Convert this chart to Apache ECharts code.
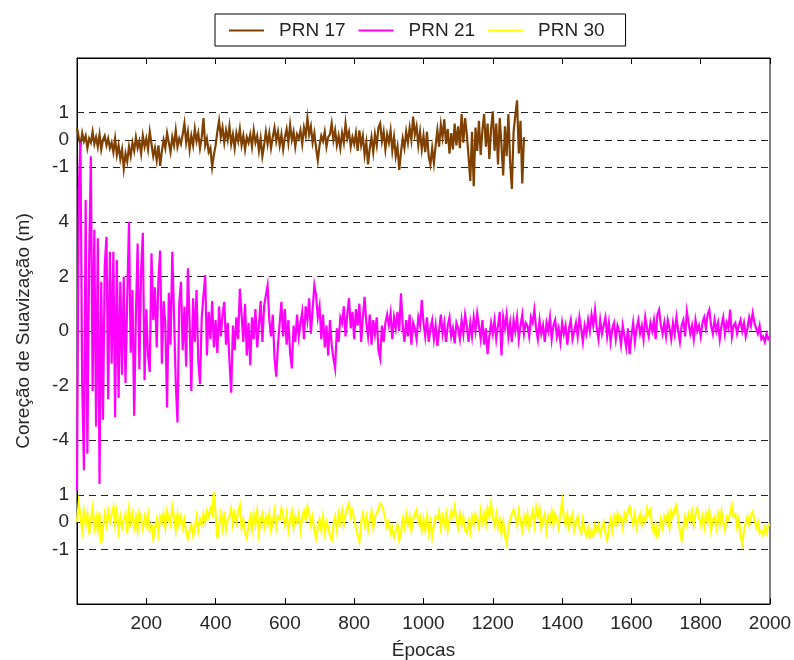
<!DOCTYPE html>
<html>
<head>
<meta charset="utf-8">
<script src="https://cdn.jsdelivr.net/npm/echarts@6/dist/echarts.min.js"></script>
<style>
  html, body { margin: 0; padding: 0; background: #fff; }
  #chart { width: 794px; height: 660px; }
</style>
</head>
<body>
<div id="chart"></div>
<script>
// Smoothing correction per satellite, sampled every EPOCH_STEP epochs.
const EPOCH_STEP = 5;
const seriesNames = ['PRN 17', 'PRN 21', 'PRN 30'];

const prn17 = [
  0.45, 0.1, -0.2, 0.25, -0.05, 0.15, -0.3, 0.05, -0.1, 0.3, -0.15, 0.1, -0.25, 0.2, -0.35, 0.0, 0.15, -0.2, 0.05, -0.3,
  -0.1, -0.45, 0.05, -0.55, -0.2, -0.7, -0.35, -1.05, -0.5, -0.8, -0.25, -0.6, -0.1, -0.4, 0.1, -0.3, -0.05, -0.5, 0.15, -0.25,
  0.05, -0.35, 0.3, -0.15, -0.6, -0.3, -0.75, -0.2, -0.95, -0.4, 0.0, -0.3, 0.25, -0.1, -0.45, 0.1, -0.2, 0.35, -0.25, 0.05,
  -0.15, 0.2, 0.6, -0.1, 0.3, -0.35, 0.15, -0.2, 0.4, -0.05, 0.25, -0.3, 0.1, 0.8, -0.2, 0.05, -0.45, -0.3, -1.0, -0.55,
  -0.2, 0.3, 0.7, 0.1, 0.45, -0.1, 0.35, 0.0, 0.5, -0.15, 0.2, -0.3, 0.25, -0.05, 0.4, -0.2, 0.15, -0.35, 0.1, -0.1,
  0.2, -0.25, 0.35, -0.1, 0.15, -0.4, 0.05, -0.6, -0.2, 0.3, -0.15, 0.25, -0.3, 0.1, 0.45, -0.05, 0.3, -0.2, 0.2, -0.35,
  0.1, 0.4, -0.1, 0.55, 0.0, 0.3, -0.25, 0.2, 0.05, 0.35, -0.15, 0.45, 0.15, 0.8, 0.2, 0.5, -0.1, 0.25, -0.3, -0.75,
  -0.2, 0.15, -0.05, 0.3, -0.25, 0.1, 0.2, 0.6, 0.0, 0.35, -0.2, 0.15, -0.3, 0.25, -0.1, 0.6, 0.05, 0.3, -0.25, 0.1,
  -0.15, 0.25, -0.4, 0.35, -0.2, 0.15, -0.55, -0.1, -0.9, -0.3, 0.1, -0.45, 0.2, -0.2, 0.45, 0.6, -0.05, 0.3, -0.35, 0.2,
  -0.1, 0.35, -0.4, 0.1, -0.6, -0.25, -1.1, -0.45, 0.05, -0.3, 0.3, -0.1, 0.45, 0.0, 0.85, 0.2, 0.5, -0.2, 0.3, -0.35,
  0.15, -0.45, 0.3, -0.6, -0.9, -0.3, -0.85, -0.2, 0.35, -0.25, 0.55, 0.1, 0.75, -0.15, 0.4, -0.5, 0.25, -0.35, 0.6, -0.2,
  0.5, -0.3, 0.95, -0.1, 0.8, 0.2, -0.6, -1.5, 0.3, -1.7, 0.45, -0.4, 0.7, -0.55, 0.35, 0.95, -0.25, 0.6, -0.7, 0.4,
  1.05, -0.4, 0.6, -0.9, 0.8, -0.2, -1.3, 0.5, -0.6, 0.95, -0.8, -1.8, 0.3, 0.9, 1.45, -0.5, 0.7, -1.6, 0.1
];

const prn21 = [
  -5.85, 5.2, 6.9, -2.0, -5.1, 4.8, -4.5, 2.5, 6.4, -2.2, 3.7, -3.5, 3.4, -5.6, 1.8, -3.25, 2.4, 3.45, -2.5, 2.9,
  -1.2, 2.9, -3.15, 2.6, -2.45, 1.8, -1.6, 2.0, -1.9, 1.2, 4.0, -0.8, 1.5, -3.1, 0.6, 3.2, -1.4, 2.2, 3.6, -1.8,
  0.8, -0.9, -1.5, 2.85, 0.4, 1.6, -0.6, 1.9, 2.95, -1.2, 1.1, 0.2, -2.8, 1.4, -0.5, 2.9, 0.6, -1.9, -3.35, 1.0,
  1.8, -0.7, 0.9, -1.3, 2.3, 0.3, -2.2, 1.2, -0.4, 1.5, -1.1, -1.95, 0.5, 1.3, 2.05, -0.9, 0.7, -0.3, 1.1, -0.6,
  0.4, -0.8, 0.9, -0.2, 0.6, 1.07, -0.5, 0.3, -1.1, -2.26, 0.2, -0.7, 0.5, -0.3, 1.55, 0.6, -0.4, 1.0, -0.9, 0.3,
  -1.25, 0.5, -0.3, 0.8, -0.6, 0.2, 1.1, -0.4, 0.9, 1.3, 1.67, 0.4, -0.2, 0.6, -1.0, -1.67, -0.5, 0.3, 1.07, -0.2,
  0.8, -0.5, 0.4, -0.8, -1.37, 0.2, -0.4, 0.6, -0.2, 0.3, 0.7, -0.3, 0.9, 0.4, 1.2, -0.1, 0.8, 1.67, 1.3, 0.5,
  0.9, -0.3, 0.6, -0.6, 0.2, -0.9, 0.4, -0.5, -1.0, -1.37, 0.1, -0.4, 0.5, 0.3, 0.9, -0.2, 0.6, 1.2, 0.1, 0.7,
  -0.3, 0.8, 0.2, 1.0, -0.4, 0.5, 1.25, 0.3, -0.2, 0.6, -0.5, 0.4, -0.1, 0.5, -0.7, -1.0, 0.2, -0.4, 0.3, 0.6,
  0.2, 0.65, -0.3, 0.5, 0.1, 0.7, 0.0, 1.38, 0.2, -0.4, 0.4, -0.2, 0.6, -0.5, 0.3, 0.1, -0.3, 0.5, 0.2, 1.14,
  0.3, -0.2, 0.5, -0.4, 0.1, 0.4, -0.3, 0.2, -0.55, 0.0, 0.6, -0.1, 0.3, -0.4, 0.2, 0.5, -0.2, 0.1, -0.45, 0.3,
  0.1, -0.3, 0.4, -0.1, 0.6, 0.2, -0.4, 0.3, -0.2, 0.5, 0.0, 0.65, 0.2, -0.3, 0.4, -0.5, 0.1, -0.85, -0.2, 0.3,
  -0.1, 0.4, -0.3, 0.2, 0.7, -0.9, 0.5, 0.1, 0.6, -0.2, 0.3, -0.4, 0.4, 0.0, 0.5, -0.3, 0.2, 0.6, -0.1, 0.3,
  0.2, -0.2, 0.5, 0.3, 0.78, 0.1, -0.3, 0.4, -0.1, 0.2, -0.4, 0.3, 0.0, 0.5, -0.3, 0.2, 0.4, -0.2, 0.1, -0.4,
  0.3, -0.1, 0.2, -0.5, 0.1, 0.4, -0.3, 0.0, 0.3, -0.2, 0.5, 0.1, -0.4, 0.2, -0.1, 0.4, 0.0, 0.6, 0.2, 0.78,
  0.1, -0.3, 0.4, -0.1, 0.2, 0.5, -0.2, 0.3, -0.4, 0.1, 0.3, -0.3, 0.2, 0.0, -0.5, 0.2, -0.2, -0.6, 0.1, -0.85,
  -0.2, 0.3, -0.4, 0.1, 0.4, -0.1, 0.2, -0.3, 0.5, 0.1, -0.2, 0.3, 0.0, 0.4, -0.3, 0.6, 0.78, 0.2, -0.1, 0.3,
  -0.2, 0.4, 0.1, -0.3, 0.3, -0.1, 0.5, 0.0, -0.4, 0.2, 0.4, -0.2, 0.72, 0.3, -0.1, 0.2, -0.3, 0.4, 0.0, 0.2,
  -0.2, 0.3, 0.5, 0.1, 0.6, 0.78, 0.2, -0.1, 0.4, 0.0, 0.3, -0.3, 0.2, 0.5, -0.1, 0.3, 0.1, 0.78, -0.2, 0.2,
  0.3, -0.1, 0.2, 0.4, 0.0, 0.3, -0.2, 0.1, 0.5, 0.2, 0.66, 0.3, 0.1, -0.1, 0.2, -0.3, -0.2, -0.4, -0.1, -0.3,
  -0.2
];

const prn30 = [
  0.0, 0.7, 0.2, -0.3, 0.4, -0.1, 0.3, -0.45, 0.1, 0.5, -0.2, 0.2, -0.3, 0.35, -0.78, -0.2, 0.3, -0.1, 0.4, 0.0,
  0.3, 0.56, -0.1, 0.4, -0.3, 0.2, -0.2, 0.1, 0.3, -0.4, 0.45, 0.0, 0.3, -0.2, 0.2, -0.3, 0.35, 0.1, -0.25, 0.2,
  -0.1, 0.3, -0.3, -0.1, -0.6, -0.2, 0.1, -0.4, 0.2, 0.0, 0.3, -0.2, 0.4, 0.1, -0.1, 0.56, 0.2, -0.3, 0.3, -0.1,
  0.2, -0.2, 0.1, -0.4, -0.6, -0.3, -0.1, -0.5, -0.2, 0.2, -0.3, 0.1, -0.1, 0.3, 0.0, 0.4, 0.2, 0.5, 0.3, 1.1,
  0.3, -0.6, -0.1, 0.3, -0.2, 0.4, -0.3, 0.1, 0.2, 0.5, -0.1, 0.3, 0.0, 0.4, 0.62, -0.2, 0.1, -0.4, -0.6, -0.1,
  0.2, -0.3, 0.3, -0.1, 0.4, -0.4, 0.1, 0.3, -0.2, 0.2, -0.1, 0.3, -0.3, 0.0, 0.4, -0.2, 0.2, 0.1, 0.5, 0.2,
  -0.1, 0.3, -0.3, 0.1, 0.4, -0.2, 0.2, 0.0, 0.3, -0.3, 0.2, 0.4, 0.1, 0.56, 0.3, -0.1, 0.2, -0.3, -0.6, -0.2,
  0.1, -0.3, 0.2, -0.4, 0.0, -0.2, -0.5, -0.66, -0.1, 0.2, -0.3, 0.3, 0.0, 0.4, -0.1, 0.3, 0.5, 0.68, 0.2, 0.4,
  0.1, -0.2, -0.5, -0.72, 0.0, 0.3, -0.1, 0.2, -0.3, 0.1, 0.4, -0.2, 0.2, 0.3, 0.5, 0.68, 0.6, 0.4, 0.1, -0.2,
  0.0, -0.4, -0.2, -0.55, -0.3, -0.1, -0.65, -0.4, 0.1, -0.2, 0.3, -0.1, 0.2, -0.3, 0.1, 0.3, 0.45, 0.0, 0.2, -0.3,
  0.1, -0.3, 0.2, -0.4, 0.0, -0.54, -0.1, 0.2, 0.1, 0.38, -0.2, 0.2, -0.1, 0.3, -0.3, 0.1, 0.4, 0.2, 0.56, 0.1,
  -0.2, 0.3, -0.1, 0.2, -0.3, -0.4, 0.0, -0.35, 0.2, -0.1, 0.3, 0.1, -0.2, 0.4, 0.0, 0.3, -0.1, 0.5, 0.2, 0.68,
  0.2, -0.1, 0.3, -0.2, 0.1, -0.4, 0.0, -0.5, -0.78, -0.2, 0.1, 0.3, 0.45, 0.2, -0.1, 0.4, 0.0, -0.3, 0.2, -0.1,
  0.3, -0.2, 0.1, 0.4, -0.1, 0.56, 0.2, 0.5, -0.2, 0.1, 0.3, -0.3, 0.2, 0.0, 0.4, -0.1, 0.3, 0.1, -0.2, 0.3,
  0.77, 0.2, -0.1, 0.3, -0.2, 0.1, 0.3, -0.3, 0.0, 0.2, -0.2, -0.4, 0.1, -0.3, -0.5, -0.2, -0.54, -0.3, -0.5, -0.1,
  -0.3, -0.1, -0.45, -0.2, 0.0, -0.4, -0.66, -0.2, 0.1, -0.3, 0.2, -0.1, 0.3, 0.0, 0.2, -0.2, 0.3, 0.1, 0.4, 0.56,
  0.2, -0.1, 0.3, -0.2, 0.1, 0.3, -0.1, 0.2, 0.0, 0.5, 0.3, 0.45, -0.2, -0.4, -0.1, -0.54, -0.3, 0.1, -0.2, 0.2,
  0.0, 0.3, -0.2, 0.4, 0.2, 0.5, 0.62, 0.1, -0.3, -0.66, -0.2, 0.2, -0.1, 0.3, 0.1, 0.4, -0.1, 0.3, 0.5, 0.2,
  -0.1, 0.2, -0.2, 0.3, 0.0, 0.4, -0.3, 0.1, 0.2, -0.2, 0.3, -0.1, 0.4, 0.0, -0.3, 0.2, 0.1, 0.3, 0.62, 0.2,
  0.3, -0.2, 0.1, -0.5, -0.78, -0.3, 0.0, 0.2, -0.1, 0.3, 0.38, 0.1, -0.2, 0.0, -0.4, -0.3, -0.48, -0.2, -0.4, -0.1,
  -0.1
];

// Tick labels of each stacked panel
const ticksPRN17 = [-1, 0, 1];
const ticksPRN21 = [-4, -2, 0, 2, 4];
const ticksPRN30 = [-1, 0, 1];
const xTicks = [200, 400, 600, 800, 1000, 1200, 1400, 1600, 1800, 2000];

const colors = ['#804000', '#ff00ff', '#ffff00'];
const FONT = "'Liberation Sans', Arial, sans-serif";
const TEXT = '#262626';

function toPairs(values) {
  return values.map((v, i) => [i * EPOCH_STEP, v]);
}

// Each panel gets its own y axis; the ranges share one unit height and
// stack the three curves one above the other.
function panelAxis(min, max, ticks, showLine) {
  return {
    type: 'value',
    position: 'left',
    min: min,
    max: max,
    axisLine: { show: showLine, lineStyle: { color: '#000', width: 1 } },
    axisTick: { show: false, customValues: ticks },
    axisLabel: {
      customValues: ticks,
      color: TEXT,
      fontFamily: FONT,
      fontSize: 19,
      margin: 8
    },
    splitLine: {
      show: true,
      lineStyle: { color: '#222', width: 1.2, type: [7, 5] }
    }
  };
}

const chart = echarts.init(document.getElementById('chart'), null, { renderer: 'canvas' });

const xBase = {
  type: 'value',
  min: 0,
  max: 2000,
  interval: 200,
  axisLine: { show: true, onZero: false, lineStyle: { color: '#000', width: 1 } },
  axisTick: { show: true, inside: true, length: 6, lineStyle: { color: '#000' } },
  splitLine: { show: false }
};

// Flat bar inside a 35x14 box, used as the legend key
const LEGEND_KEY = 'path://M0,0M0,6L35,6L35,8L0,8ZM35,14';

chart.setOption({
  animation: false,
  backgroundColor: '#fff',
  grid: {
    left: 77, right: 24, top: 58, bottom: 56,
    outerBoundsMode: 'none',
    containLabel: false,
    show: true, borderColor: '#000', borderWidth: 1, backgroundColor: 'transparent'
  },
  legend: {
    data: seriesNames.map(n => ({ name: n, icon: LEGEND_KEY })),
    left: 215,
    top: 14,
    orient: 'horizontal',
    itemWidth: 35,
    itemHeight: 14,
    itemGap: 13,
    padding: [7, 21, 6, 14],
    borderColor: '#000',
    borderWidth: 1,
    backgroundColor: '#fff',
    textStyle: { color: TEXT, fontFamily: FONT, fontSize: 19, padding: [0, 0, 0, 10] }
  },
  xAxis: [
    Object.assign({}, xBase, {
      position: 'bottom',
      name: 'Épocas',
      nameLocation: 'middle',
      nameGap: 37,
      nameTextStyle: { color: TEXT, fontFamily: FONT, fontSize: 19 },
      axisLabel: {
        color: TEXT, fontFamily: FONT, fontSize: 19, margin: 10,
        formatter: v => (xTicks.indexOf(v) >= 0 ? String(v) : '')
      }
    }),
    Object.assign({}, xBase, {
      position: 'top',
      axisLabel: { show: false }
    })
  ],
  yAxis: [
    Object.assign(panelAxis(-17, 3, ticksPRN17, true), {
      name: 'Coreção de Suavização (m)',
      nameLocation: 'middle',
      nameRotate: 90,
      nameGap: 44,
      nameTextStyle: { color: TEXT, fontFamily: FONT, fontSize: 19 }
    }),
    panelAxis(-10, 10, ticksPRN21, false),
    panelAxis(-3, 17, ticksPRN30, false)
  ],
  series: [prn17, prn21, prn30].map((vals, k) => ({
    name: seriesNames[k],
    type: 'line',
    xAxisIndex: 0,
    yAxisIndex: k,
    data: toPairs(vals),
    symbol: 'none',
    color: colors[k],
    lineStyle: { color: colors[k], width: 2.2, join: 'miter' },
    emphasis: { disabled: true },
    silent: true,
    clip: true
  }))
});
</script>
</body>
</html>
